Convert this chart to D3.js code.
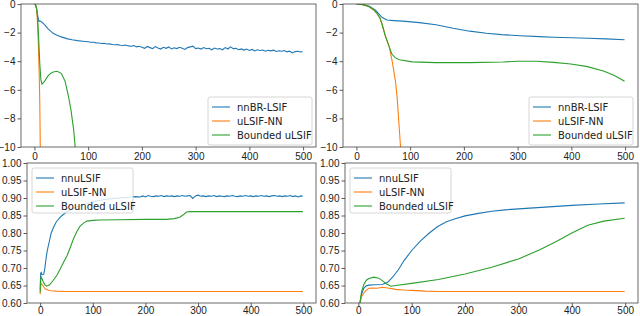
<!DOCTYPE html>
<html>
<head>
<meta charset="utf-8">
<script src="https://cdn.jsdelivr.net/npm/d3@7"></script>
<style>
  body { margin: 0; background: #fff; }
  svg { font-family: "DejaVu Sans", sans-serif; }
</style>
</head>
<body>
<div id="chart"></div>
<script>
// ---- data ([iteration, value]) ----
var xTicks = [0, 100, 200, 300, 400, 500];
var topTicks = [0, -2, -4, -6, -8, -10];
var bottomTicks = [0.60, 0.65, 0.70, 0.75, 0.80, 0.85, 0.90, 0.95, 1.00];
var topNames = ["nnBR-LSIF", "uLSIF-NN", "Bounded uLSIF"];
var bottomNames = ["nnuLSIF", "uLSIF-NN", "Bounded uLSIF"];

// top left
var tlBlue = [[0,0],[2,-0.05],[4,-0.3],[6,-0.8],[8,-1.2],[10,-1.18],[12,-1.22],[15,-1.3],[20,-1.5],[25,-1.72],[30,-1.9],[35,-2.05],[40,-2.15],[50,-2.3],[60,-2.42],[70,-2.5],[80,-2.56],[90,-2.6],
  [100,-2.64],[105,-2.67],[110,-2.68],[115,-2.72],[120,-2.73],[125,-2.76],[130,-2.75],[135,-2.8],[140,-2.79],[145,-2.83],[150,-2.85],[155,-2.84],[160,-2.88],[165,-2.9],[170,-2.87],[175,-2.93],[180,-2.95],[185,-2.91],[190,-3.0],[195,-2.96],
  [200,-3.02],[205,-3.1],[210,-2.97],[215,-3.05],[220,-3.12],[225,-2.98],[230,-3.08],[235,-3.15],[240,-3.03],[245,-3.1],[250,-3.0],[255,-3.14],[260,-3.06],[265,-3.12],[270,-3.03],[275,-3.1],[280,-3.18],[285,-3.05],[290,-3.0],[295,-2.95],
  [300,-3.12],[305,-3.08],[310,-3.15],[315,-3.05],[320,-3.13],[325,-3.1],[330,-3.2],[335,-3.08],[340,-3.15],[345,-3.12],[350,-3.2],[355,-3.05],[360,-3.15],[365,-3.0],[370,-3.12],[375,-3.1],[380,-3.2],[385,-3.14],[390,-3.22],[395,-3.15],
  [400,-3.25],[405,-3.18],[410,-3.28],[415,-3.2],[420,-3.25],[425,-3.22],[430,-3.3],[435,-3.24],[440,-3.28],[445,-3.23],[450,-3.32],[455,-3.27],[460,-3.3],[465,-3.25],[470,-3.35],[475,-3.3],[480,-3.42],[485,-3.33],[490,-3.3],[495,-3.36],[499,-3.33]];
var tlOrange = [[0,0],[2,-0.05],[4,-0.35],[5,-0.8],[7,-2.5],[9,-5],[10,-7],[11,-10.5]];
var tlGreen = [[0,0],[2,-0.05],[4,-0.3],[6,-1.0],[8,-2.5],[10,-4.2],[12,-5.3],[14,-5.6],[18,-5.45],[25,-5.05],[30,-4.85],[35,-4.75],[42,-4.7],[50,-4.85],[57,-5.4],[63,-6.4],[68,-7.4],[73,-8.8],[77,-10.5]];

// top right
var trBlue = [[0,0],[10,-0.02],[17,-0.07],[25,-0.18],[36,-0.45],[42,-0.7],[48,-0.95],[57,-1.12],[70,-1.16],[86,-1.2],[117,-1.3],[148,-1.45],[180,-1.7],[211,-1.9],[242,-2.05],[270,-2.14],[305,-2.22],[340,-2.28],[367,-2.32],[400,-2.36],[430,-2.4],[465,-2.44],[499,-2.5]];
var trOrange = [[0,0],[10,-0.03],[23,-0.18],[32,-0.4],[39,-0.7],[44,-1.0],[48,-1.45],[54,-2.26],[61,-2.96],[67,-4.1],[73,-5.5],[76,-6.65],[79,-8.3],[83,-10.5]];
var trGreen = [[0,0],[10,-0.03],[23,-0.18],[32,-0.4],[39,-0.7],[44,-1.0],[48,-1.45],[54,-2.26],[61,-3.0],[66,-3.5],[72,-3.75],[80,-3.9],[104,-4.05],[148,-4.1],[211,-4.1],[273,-4.06],[300,-4.0],[336,-4.0],[367,-4.08],[399,-4.2],[430,-4.38],[461,-4.7],[480,-5.0],[499,-5.4]];

// bottom left
var blBlue = [[0,0.64],[1,0.685],[2,0.687],[3,0.682],[5,0.681],[7,0.683],[9,0.7],[11,0.725],[13,0.745],[15,0.76],[18,0.78],[21,0.8],[25,0.815],[30,0.83],[35,0.84],[40,0.848],[50,0.86],[60,0.868],[70,0.875],[80,0.88],[90,0.885],
  [100,0.889],[110,0.892],[120,0.895],[130,0.897],[140,0.899],[150,0.9],[160,0.901],[170,0.902],[180,0.904],[190,0.903],[195,0.906],
  [200,0.903],[205,0.907],[210,0.905],[215,0.904],[220,0.906],[225,0.905],[230,0.907],[235,0.904],[240,0.906],[245,0.905],[250,0.906],[255,0.904],[260,0.906],[265,0.905],[270,0.907],[275,0.905],[280,0.906],[285,0.907],[290,0.899],[295,0.906],
  [300,0.908],[305,0.905],[310,0.906],[315,0.904],[320,0.906],[325,0.905],[330,0.907],[335,0.904],[340,0.906],[345,0.905],[350,0.904],[355,0.906],[360,0.905],[365,0.907],[370,0.905],[375,0.904],[380,0.906],[385,0.905],[390,0.907],[395,0.905],
  [400,0.906],[405,0.904],[410,0.906],[415,0.905],[420,0.907],[425,0.905],[430,0.906],[435,0.904],[440,0.906],[445,0.907],[450,0.905],[455,0.906],[460,0.904],[465,0.906],[470,0.905],[475,0.907],[480,0.904],[485,0.906],[490,0.903],[495,0.906],[499,0.905]];
var blOrange = [[0,0.625],[1,0.65],[2,0.656],[4,0.652],[7,0.645],[10,0.64],[15,0.637],[20,0.635],[30,0.634],[50,0.633],[100,0.633],[200,0.633],[300,0.633],[400,0.633],[499,0.633]];
var blGreen = [[0,0.63],[1,0.665],[2,0.674],[4,0.668],[6,0.66],[9,0.652],[12,0.648],[18,0.652],[25,0.665],[32,0.68],[38,0.697],[44,0.715],[51,0.735],[57,0.758],[63,0.782],[70,0.805],[76,0.82],[83,0.829],[89,0.834],[100,0.836],[114,0.837],[150,0.838],[200,0.839],[240,0.839],[255,0.841],[265,0.845],[272,0.852],[278,0.86],[285,0.861],[350,0.861],[420,0.861],[499,0.861]];

// bottom right
var brBlue = [[3,0.60],[6,0.625],[10,0.642],[15,0.649],[20,0.651],[30,0.652],[45,0.653],[55,0.659],[65,0.675],[75,0.695],[86,0.722],[100,0.75],[117,0.778],[133,0.8],[148,0.818],[165,0.832],[180,0.84],[200,0.849],[225,0.856],[250,0.862],[275,0.866],[300,0.869],[350,0.874],[400,0.879],[450,0.883],[499,0.886]];
var brOrange = [[3,0.60],[6,0.618],[10,0.628],[15,0.637],[20,0.642],[28,0.643],[35,0.642],[45,0.645],[55,0.643],[70,0.639],[85,0.637],[100,0.636],[125,0.634],[150,0.633],[250,0.633],[350,0.633],[499,0.633]];
var brGreen = [[3,0.60],[6,0.632],[10,0.652],[15,0.665],[20,0.670],[29,0.674],[38,0.671],[45,0.664],[52,0.655],[61,0.648],[70,0.65],[100,0.656],[150,0.667],[200,0.683],[250,0.702],[300,0.726],[340,0.752],[370,0.775],[400,0.8],[430,0.822],[460,0.834],[499,0.842]];

var colors = ["#1f77b4", "#ff7f0e", "#2ca02c"];

var svg = d3.select("#chart").append("svg")
    .attr("width", 640)
    .attr("height", 316);

function panel(id, box, yDomain, yTicks, yFormat, series, names, legendBox, xPad) {
    var x = d3.scaleLinear().domain([-25, 524]).range([box.left, box.right]);
    var y = d3.scaleLinear().domain(yDomain).range([box.bottom, box.top]);

    svg.append("clipPath").attr("id", id)
        .append("rect")
        .attr("x", box.left).attr("y", box.top)
        .attr("width", box.right - box.left).attr("height", box.bottom - box.top);

    var line = d3.line()
        .x(function(d) { return x(d[0]); })
        .y(function(d) { return y(d[1]); });

    var g = svg.append("g").attr("clip-path", "url(#" + id + ")");
    series.forEach(function(s, i) {
        g.append("path")
            .datum(s)
            .attr("fill", "none")
            .attr("stroke", colors[i])
            .attr("stroke-width", 1.1)
            .attr("d", line);
    });

    // axes
    var xAxis = d3.axisBottom(x).tickValues(xTicks).tickSize(3.5).tickPadding(xPad);
    var yAxis = d3.axisLeft(y).tickValues(yTicks).tickSize(3.5).tickPadding(2).tickFormat(yFormat);
    var gx = svg.append("g").attr("transform", "translate(0," + box.bottom + ")").call(xAxis);
    var gy = svg.append("g").attr("transform", "translate(" + box.left + ",0)").call(yAxis);
    [gx, gy].forEach(function(a) {
        a.select(".domain").remove();
        a.selectAll("line").attr("stroke", "#333").attr("stroke-width", 0.8);
        a.selectAll("text").attr("fill", "#222").style("font-size", "10px");
    });

    svg.append("rect")
        .attr("x", box.left).attr("y", box.top)
        .attr("width", box.right - box.left).attr("height", box.bottom - box.top)
        .attr("fill", "none").attr("stroke", "#444").attr("stroke-width", 0.8);

    // legend
    var lg = svg.append("g");
    lg.append("rect")
        .attr("x", legendBox.x).attr("y", legendBox.y)
        .attr("width", legendBox.w).attr("height", legendBox.h)
        .attr("rx", 2)
        .attr("fill", "#fff").attr("fill-opacity", 0.8)
        .attr("stroke", "#ccc").attr("stroke-width", 0.8);
    names.forEach(function(n, i) {
        var yy = legendBox.y + 10 + i * 14;
        lg.append("line")
            .attr("x1", legendBox.x + 4).attr("x2", legendBox.x + 22)
            .attr("y1", yy).attr("y2", yy)
            .attr("stroke", colors[i]).attr("stroke-width", 1.1);
        lg.append("text")
            .attr("x", legendBox.x + 29).attr("y", yy)
            .attr("dy", "0.35em")
            .style("font-size", "10px")
            .attr("fill", "#222")
            .text(n);
    });
}

var fmtTop = function(d) { return d3.format("d")(d).replace("-", "\u2212"); };
var fmtBottom = d3.format(".2f");

panel("c1", {left: 21, right: 316, top: 4, bottom: 147}, [-10, 0], topTicks, fmtTop,
      [tlBlue, tlOrange, tlGreen], topNames, {x: 208, y: 97, w: 104, h: 48}, 2);
panel("c2", {left: 343, right: 638, top: 4, bottom: 147}, [-10, 0], topTicks, fmtTop,
      [trBlue, trOrange, trGreen], topNames, {x: 529, y: 97, w: 104, h: 48}, 2);
panel("c3", {left: 27, right: 316, top: 163, bottom: 303}, [0.6, 1.0], bottomTicks, fmtBottom,
      [blBlue, blOrange, blGreen], bottomNames, {x: 32, y: 168, w: 101, h: 45}, 0);
panel("c4", {left: 345, right: 638, top: 163, bottom: 303}, [0.6, 1.0], bottomTicks, fmtBottom,
      [brBlue, brOrange, brGreen], bottomNames, {x: 350, y: 168, w: 101, h: 45}, 0);
</script>
</body>
</html>
